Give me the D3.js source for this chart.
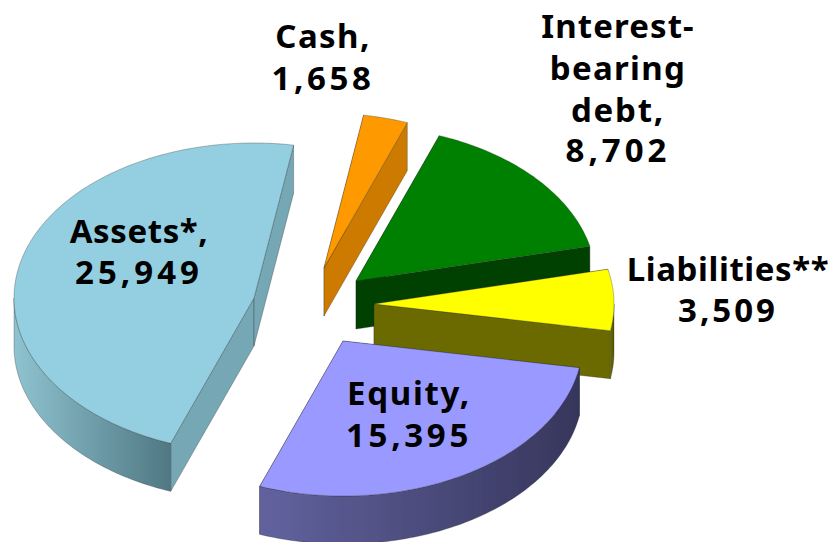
<!DOCTYPE html>
<html><head><meta charset="utf-8">
<script src="https://cdn.jsdelivr.net/npm/d3@7"></script>
<style>html,body{margin:0;padding:0;background:#fff}svg{display:block}</style>
</head><body><svg id="c" width="834" height="542"></svg>
<script>
const categories = ["Cash","Interest-bearing debt","Liabilities**","Equity","Assets*"];
const values = [1658,8702,3509,15395,25949];
const topColors = ["#ff9900","#008000","#ffff00","#9999ff","#93cfe0"];
const faceColors = ["#cc7a00","#004000","#6b6b00","#3f3f6b","#74a7b5"];
const wallLeft = ["#cc7a00","#004000","#6b6b00","#62629f","#8fc3d0"];
const wallRight = ["#8a5200","#003000","#555500","#36365c","#4f7883"];
const labelLines = [["Cash,","1,658"],["Interest-","bearing","debt,","8,702"],["Liabilities**","3,509"],["Equity,","15,395"],["Assets*,","25,949"]];

const W=834,H=542, RX=240, RY=155, DEPTH=48, START_DEG=9.5;
const apex = [[324,268],[356,281],[374,304],[343,341],[254,298]];
const labelX = [323,618,728,409,139];
const labelY = [[48,90],[38,80,122,162],[281,322],[405,447],[243,284]];
const spacing = [[1.4,3.6],[1.1,1.3,1.8,4],[0.6,3],[1.7,3.7],[0.6,4]];
const drawOrder = [4,0,1,2,3];

const svg = d3.select("#c");
const defs = svg.append("defs");
defs.append("filter").attr("id","soft").attr("x","-5%").attr("y","-5%").attr("width","110%").attr("height","110%")
  .append("feGaussianBlur").attr("stdDeviation",0.6);
const marks = svg.append("g").attr("filter","url(#soft)");
const pie = d3.pie().sort(null).startAngle(START_DEG*Math.PI/180).endAngle((360+START_DEG)*Math.PI/180);
const arcs = pie(values);
const sx = d3.scaleLinear().domain([-1,1]).range([-RX,RX]);
const sy = d3.scaleLinear().domain([-1,1]).range([RY,-RY]);
const line = d3.line();
const pt = (i,a,d=0)=>[apex[i][0]+sx(Math.sin(a)), apex[i][1]+sy(Math.cos(a))+d];
const samples=(a0,a1)=>{const n=Math.max(2,Math.ceil(Math.abs(a1-a0)/0.02));return d3.range(n+1).map(k=>a0+(a1-a0)*k/n);};

drawOrder.forEach(i=>{
  const A=arcs[i], g=marks.append("g");
  const a0=A.startAngle, a1=A.endAngle;
  const c=apex[i];
  const stroke="rgba(40,40,40,0.3)";
  [a0,a1].forEach(a=>{
    const p=pt(i,a);
    g.append("path").attr("d",line([c,p,[p[0],p[1]+DEPTH],[c[0],c[1]+DEPTH]])+"Z")
      .attr("fill",faceColors[i]).attr("stroke",stroke).attr("stroke-width",1);
  });
  const f0=Math.max(a0,Math.PI/2), f1=Math.min(a1,Math.PI*1.5);
  if(f1>f0){
    const s=samples(f0,f1);
    const top=s.map(a=>pt(i,a)), bot=s.map(a=>pt(i,a,DEPTH)).reverse();
    const xs=top.map(p=>p[0]);
    const id="w"+i;
    const lg=defs.append("linearGradient").attr("id",id).attr("gradientUnits","userSpaceOnUse")
      .attr("x1",d3.min(xs)).attr("x2",d3.max(xs)).attr("y1",0).attr("y2",0);
    lg.append("stop").attr("offset",0).attr("stop-color",wallLeft[i]);
    lg.append("stop").attr("offset",1).attr("stop-color",wallRight[i]);
    g.append("path").attr("d",line(top.concat(bot))+"Z").attr("fill",`url(#${id})`).attr("stroke",stroke).attr("stroke-width",1);
  }
  const rim=samples(a0,a1).map(a=>pt(i,a));
  g.append("path").attr("d",line([c].concat(rim))+"Z").attr("fill",topColors[i]).attr("stroke",stroke).attr("stroke-width",1);
});

labelLines.forEach((ls,i)=>{
  ls.forEach((t,j)=>{
    svg.append("text").attr("x",labelX[i]).attr("y",labelY[i][j]).attr("text-anchor","middle")
      .attr("font-family","'Noto Sans',sans-serif").attr("font-weight",700).attr("font-size",33)
      .attr("letter-spacing",spacing[i][j]).attr("fill","#000").text(t);
  });
});
</script></body></html>
